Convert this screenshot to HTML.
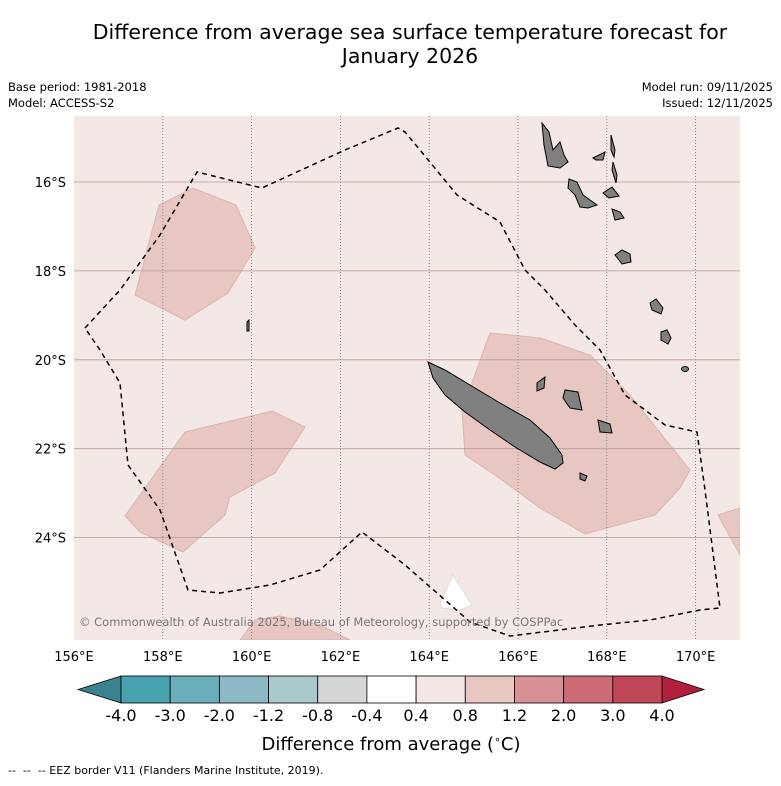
<!DOCTYPE html>
<html><head><meta charset="utf-8"><style>
body{margin:0;background:#fff;width:781px;height:781px;overflow:hidden;font-family:"Liberation Sans","DejaVu Sans",sans-serif}
svg text{font-family:"DejaVu Sans","Liberation Sans",sans-serif}
</style></head><body>
<svg id="c" width="781" height="781" xmlns="http://www.w3.org/2000/svg">
<text x="410" y="39" font-size="20.5" text-anchor="middle">Difference from average sea surface temperature forecast for</text>
<text x="410" y="63" font-size="20.5" text-anchor="middle">January 2026</text>
<text x="8" y="91" font-size="11.5">Base period: 1981-2018</text>
<text x="8" y="107" font-size="11.5">Model: ACCESS-S2</text>
<text x="773" y="91" font-size="11.5" text-anchor="end">Model run: 09/11/2025</text>
<text x="773" y="107" font-size="11.5" text-anchor="end">Issued: 12/11/2025</text>
<defs><clipPath id="mc"><rect x="74" y="116" width="666" height="524"/></clipPath></defs>
<g clip-path="url(#mc)">
<rect x="74" y="116" width="666" height="524" fill="#f4e8e6"/>
<g fill="#e8c7c2" stroke="#dcb4b0" stroke-width="1">
<polygon points="159,205 193,188 236,205 255,248 228,293 185,320 135,295"/>
<polygon points="185,432 272,411 305,427 275,473 230,497 225,515 183,552 140,532 125,516"/>
<polygon points="490,333 540,338 590,355 630,395 690,470 680,488 655,515 585,534 540,508 495,475 465,455 462,410"/>
<polygon points="718,515 740,508 740,555"/>
<polygon points="240,640 255,620 280,616 320,625 350,640"/>
</g>
<polygon points="440,603 453,575 472,605 460,610 442,608" fill="#fff" stroke="#ddd"/>
<g id="grid" stroke="#777" stroke-width="0.8" stroke-dasharray="1,2"></g>
<g fill="#808080" stroke="#000" stroke-width="1">
<polygon points="428,362 445,370 470,385 500,403 530,420 550,438 562,455 563,463 555,469 540,462 515,447 490,430 465,412 445,395 433,378"/>
<polygon points="537,383 545,377 544,388 537,391"/>
<polygon points="565,390 578,392 582,410 570,408 563,398"/>
<polygon points="598,420 610,424 612,433 600,432"/>
<polygon points="580,473 587,476 585,481 580,479"/>
<polygon points="542,123 549,132 553,150 560,142 564,155 568,162 560,168 548,166 544,145"/>
<polygon points="611,135 615,150 614,157 611,150"/>
<polygon points="613,162 617,175 616,183 612,170"/>
<polygon points="593,158 605,152 603,160 596,160"/>
<polygon points="569,179 577,182 583,195 597,205 588,208 580,207 575,195 568,188"/>
<polygon points="603,193 612,187 619,196 609,198"/>
<polygon points="612,209 620,212 624,218 615,220"/>
<polygon points="615,255 622,250 630,254 631,262 622,264"/>
<polygon points="650,303 656,299 663,308 661,314 652,310"/>
<polygon points="661,332 667,330 671,338 668,344 661,340"/>
<ellipse cx="685" cy="369" rx="3.5" ry="2.5"/>
<polygon points="247,322 249,320 249,331 247,331"/>
</g>
<polyline points="85,328 120,290 160,235 197,172 262,188 345,150 398,128 405,132 420,150 457,195 500,222 525,270 545,290 575,325 600,350 625,395 665,425 697,432 705,490 720,608 700,610 650,620 600,625 510,636 470,622 445,600 405,565 362,532 320,570 270,585 220,593 188,590 160,510 128,465 120,383 100,350 85,328" fill="none" stroke="#000" stroke-width="1.5" stroke-dasharray="5,4"/>
<text x="79" y="626" font-size="11.5" fill="#777">© Commonwealth of Australia 2025, Bureau of Meteorology, supported by COSPPac</text>
</g>
<g id="axes" font-size="13"></g>
<g id="cbar"></g>
<text x="391" y="750" font-size="18" text-anchor="middle">Difference from average (<tspan font-size="11" dy="-7">∘</tspan><tspan dy="7">C)</tspan></text>
<text x="8" y="774" font-size="11" xml:space="preserve">--  --  -- EEZ border V11 (Flanders Marine Institute, 2019).</text>
</svg>
<script>
const lonTicks=[156,158,160,162,164,166,168,170];
const latTicks=[16,18,20,22,24];
const cbarTicks=["-4.0","-3.0","-2.0","-1.2","-0.8","-0.4","0.4","0.8","1.2","2.0","3.0","4.0"];
const cbarColors=["#47a2b0","#6aaebb","#8db9c4","#a9c9cd","#d4d7d8","#ffffff","#f4e7e6","#e8c6c2","#d88f96","#cc6a75","#be4657"];
const ns="http://www.w3.org/2000/svg";
const xLon=l=>74+(l-156)*44.4;
const yLat=l=>182+(l-16)*44.45;
function mk(t,a,p){const e=document.createElementNS(ns,t);for(const k in a)e.setAttribute(k,a[k]);p.appendChild(e);return e;}
const grid=document.getElementById('grid'),axes=document.getElementById('axes'),cb=document.getElementById('cbar');
lonTicks.forEach(l=>{
 if(l>156){const g=mk('line',{x1:xLon(l),x2:xLon(l),y1:116,y2:640},grid);
 
 }
 const t=mk('text',{x:xLon(l),y:661,'text-anchor':'middle'},axes);t.textContent=l+'°E';
 
 
});
latTicks.forEach(l=>{
 const g=mk('line',{x1:74,x2:740,y1:yLat(l),y2:yLat(l),stroke:'#b89a98','stroke-dasharray':'none','stroke-width':0.8},grid);
 
 
 const t=mk('text',{x:66,y:yLat(l)+5,'text-anchor':'end'},axes);t.textContent=l+'°S';
 
 
});
const cx0=121,cx1=662,cy=676,ch=27,n=cbarColors.length,w=(cx1-cx0)/n;
const lt=mk('polygon',{points:`${cx0},${cy} ${cx0},${cy+ch} 78,${cy+ch/2}`,fill:'#3a838e',stroke:'#000','stroke-width':0.8},cb);


const rt=mk('polygon',{points:`${cx1},${cy} ${cx1},${cy+ch} 704,${cy+ch/2}`,fill:'#b01f3b',stroke:'#000','stroke-width':0.8},cb);


cbarColors.forEach((c,i)=>{
 const r=mk('rect',{x:cx0+i*w,y:cy,width:w,height:ch,fill:c,stroke:'#000','stroke-width':0.8},cb);
 
 
});
cbarTicks.forEach((s,i)=>{
 const t=mk('text',{x:cx0+i*w,y:721,'text-anchor':'middle','font-size':16},cb);t.textContent=s;
 
 
});
</script>
</body></html>
